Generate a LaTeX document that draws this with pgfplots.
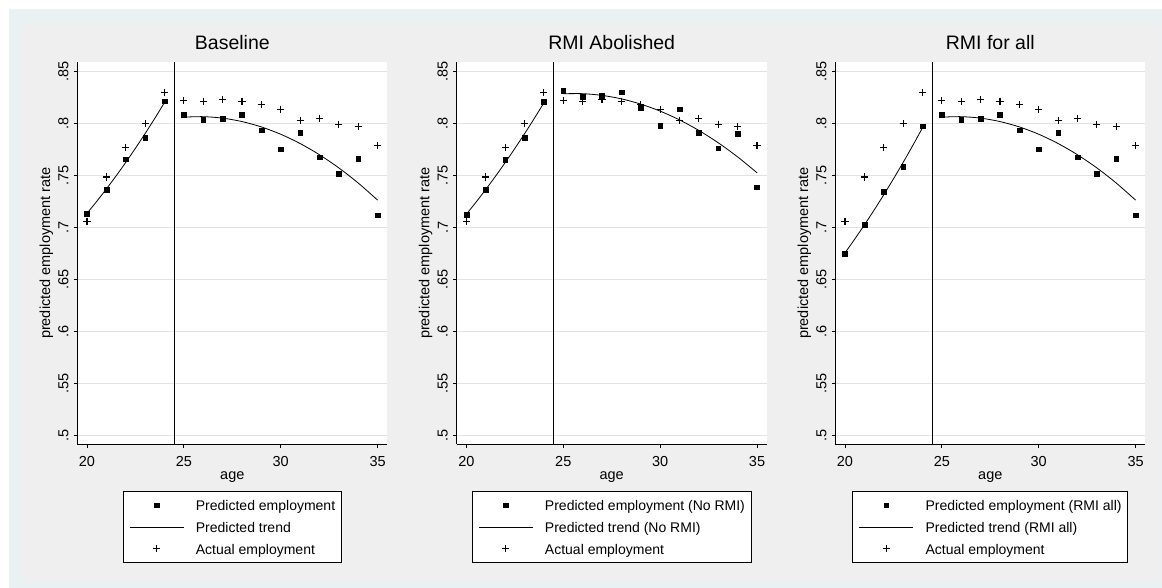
\documentclass[border=0pt]{standalone}
\usepackage{pgfplots}
\pgfplotsset{compat=1.18}
\usepackage{fontspec}
\setmainfont{Liberation Sans}
\definecolor{outerblue}{RGB}{233,241,243}
\definecolor{bggray}{RGB}{239,239,239}
\definecolor{gridc}{RGB}{226,226,226}
\newcommand{\tickfont}{\fontsize{14.5bp}{17bp}\selectfont}
\newcommand{\titlefont}{\fontsize{19.5bp}{22bp}\selectfont}
\newcommand{\legfont}{\fontsize{14bp}{16bp}\selectfont}
\pgfplotsset{
  statapanel/.style={
    scale only axis,
    width=310bp, height=382.3bp,
    anchor=south west,
    xmin=19.5, xmax=35.5,
    ymin=0.49153, ymax=0.85933,
    axis x line*=bottom, axis y line*=left,
    axis line style={black, line width=0.9bp},
    axis background/.style={fill=white},
    xtick={20,25,30,35}, xticklabels={20,25,30,35},
    ytick={0.5,0.55,0.6,0.65,0.7,0.75,0.8,0.85},
    yticklabels={.5,.55,.6,.65,.7,.75,.8,.85},
    tick align=outside,
    major tick length=3.5bp,
    tick style={black, line width=0.8bp},
    ymajorgrids, grid style={gridc, line width=1.2bp},
    ticklabel style={font=\tickfont, inner sep=0pt},
    yticklabel style={rotate=90, anchor=south},
    xticklabel style={anchor=north},
    xticklabel shift=8.5bp,
    yticklabel shift=5.2bp,
    title style={font=\titlefont, at={(axis description cs:0.5,1)}, anchor=base, yshift=6.3bp, inner sep=0pt},
    xlabel={age},
    xlabel style={font=\tickfont, at={(axis description cs:0.5,0)}, anchor=base, yshift=-34.7bp, inner sep=0pt},
    ylabel={predicted employment rate},
    ylabel style={font=\tickfont, at={([xshift=-27.3bp]axis description cs:0,0.5)}, anchor=base, inner sep=0pt},
    legend cell align=left,
    legend style={at={([yshift=-46.4bp]axis description cs:0.5,0)}, anchor=north,
      draw=black, line width=0.8bp, fill=white, inner xsep=6.3bp, inner ysep=3.3bp,
      font=\legfont, row sep=0pt,
      nodes={inner sep=0pt, text height=16.25bp, text depth=5.45bp},
      /tikz/every odd column/.style={column sep=11.7bp}},
  },
  predsq/.style={only marks, mark=square*, mark size=2.35bp, black,
    legend image code/.code={\draw[##1] plot coordinates {(27bp,0bp)};}},
  trend/.style={black, line width=0.8bp, smooth, no marks,
    legend image code/.code={\draw[##1] (0bp,0bp) -- (54bp,0bp);}},
  actual/.style={only marks, mark=+, mark size=3.6bp, black, line width=1.1bp,
    legend image code/.code={\draw[##1] plot coordinates {(27bp,0bp)};}},
  vline/.style={black, line width=0.8bp, forget plot},
}
\begin{document}
\begin{tikzpicture}
\fill[white] (0bp,0bp) rectangle (1162bp,588bp);
\fill[outerblue] (9bp,0bp) rectangle (1162bp,579bp);
\fill[bggray] (21.7bp,6.3bp) rectangle (1160.7bp,564bp);

% ---------------- Panel 1: Baseline ----------------
\begin{axis}[statapanel, at={(77.3bp,143.7bp)}, title={Baseline}]
\addplot[predsq] coordinates {
(20,0.7134) (21,0.7368) (22,0.7658) (23,0.7867) (24,0.8217)
(25,0.8088) (26,0.8040) (27,0.8047) (28,0.8088) (29,0.7937) (30,0.7754)
(31,0.7915) (32,0.7677) (33,0.7519) (34,0.7664) (35,0.7118)};
\addlegendentry{Predicted employment}
\addplot[trend] coordinates {
(20,0.71372) (20.5,0.72518) (21,0.73715) (21.5,0.74967) (22,0.76272)
(22.5,0.77632) (23,0.79045) (23.5,0.80513) (24,0.82035)};
\addlegendentry{Predicted trend}
\addplot[trend, forget plot] coordinates {
(25,0.80628) (26,0.80674) (27,0.80532) (28,0.80203) (29,0.79686) (30,0.78981)
(31,0.78089) (32,0.77009) (33,0.75742) (34,0.74287) (35,0.72644)};
\addplot[actual] coordinates {
(20,0.7060) (21,0.7487) (22,0.7767) (23,0.7998) (24,0.8301)
(25,0.8220) (26,0.8211) (27,0.8230) (28,0.8217) (29,0.8185) (30,0.8140)
(31,0.8034) (32,0.8053) (33,0.7995) (34,0.7976) (35,0.7789)};
\addlegendentry{Actual employment}
\addplot[vline] coordinates {(24.5,0.49153) (24.5,0.85933)};
\end{axis}

% ---------------- Panel 2: RMI Abolished ----------------
\begin{axis}[statapanel, at={(456.7bp,143.7bp)}, title={RMI Abolished}]
\addplot[predsq] coordinates {
(20,0.7124) (21,0.7368) (22,0.7651) (23,0.7867) (24,0.8214)
(25,0.8314) (26,0.8259) (27,0.8269) (28,0.8304) (29,0.8153) (30,0.7982)
(31,0.8140) (32,0.7915) (33,0.7764) (34,0.7902) (35,0.7388)};
\addlegendentry{Predicted employment (No RMI)}
\addplot[trend] coordinates {
(20,0.71289) (20.5,0.72454) (21,0.73670) (21.5,0.74935) (22,0.76249)
(22.5,0.77614) (23,0.79028) (23.5,0.80491) (24,0.82005)};
\addlegendentry{Predicted trend (No RMI)}
\addplot[trend, forget plot] coordinates {
(25,0.82879) (26,0.82885) (27,0.82721) (28,0.82387) (29,0.81882) (30,0.81207)
(31,0.80361) (32,0.79345) (33,0.78159) (34,0.76802) (35,0.75275)};
\addplot[actual] coordinates {
(20,0.7060) (21,0.7487) (22,0.7767) (23,0.7998) (24,0.8301)
(25,0.8220) (26,0.8211) (27,0.8230) (28,0.8217) (29,0.8185) (30,0.8140)
(31,0.8034) (32,0.8053) (33,0.7995) (34,0.7976) (35,0.7789)};
\addlegendentry{Actual employment}
\addplot[vline] coordinates {(24.5,0.49153) (24.5,0.85933)};
\end{axis}

% ---------------- Panel 3: RMI for all ----------------
\begin{axis}[statapanel, at={(835.3bp,143.7bp)}, title={RMI for all}]
\addplot[predsq] coordinates {
(20,0.6751) (21,0.7028) (22,0.7346) (23,0.7584) (24,0.7976)
(25,0.8088) (26,0.8040) (27,0.8047) (28,0.8088) (29,0.7937) (30,0.7754)
(31,0.7915) (32,0.7677) (33,0.7519) (34,0.7664) (35,0.7118)};
\addlegendentry{Predicted employment (RMI all)}
\addplot[trend] coordinates {
(20,0.67572) (20.5,0.68888) (21,0.70257) (21.5,0.71680) (22,0.73156)
(22.5,0.74686) (23,0.76269) (23.5,0.77906) (24,0.79596)};
\addlegendentry{Predicted trend (RMI all)}
\addplot[trend, forget plot] coordinates {
(25,0.80628) (26,0.80674) (27,0.80532) (28,0.80203) (29,0.79686) (30,0.78981)
(31,0.78089) (32,0.77009) (33,0.75742) (34,0.74287) (35,0.72644)};
\addplot[actual] coordinates {
(20,0.7060) (21,0.7487) (22,0.7767) (23,0.7998) (24,0.8301)
(25,0.8220) (26,0.8211) (27,0.8230) (28,0.8217) (29,0.8185) (30,0.8140)
(31,0.8034) (32,0.8053) (33,0.7995) (34,0.7976) (35,0.7789)};
\addlegendentry{Actual employment}
\addplot[vline] coordinates {(24.5,0.49153) (24.5,0.85933)};
\end{axis}
\end{tikzpicture}
\end{document}
